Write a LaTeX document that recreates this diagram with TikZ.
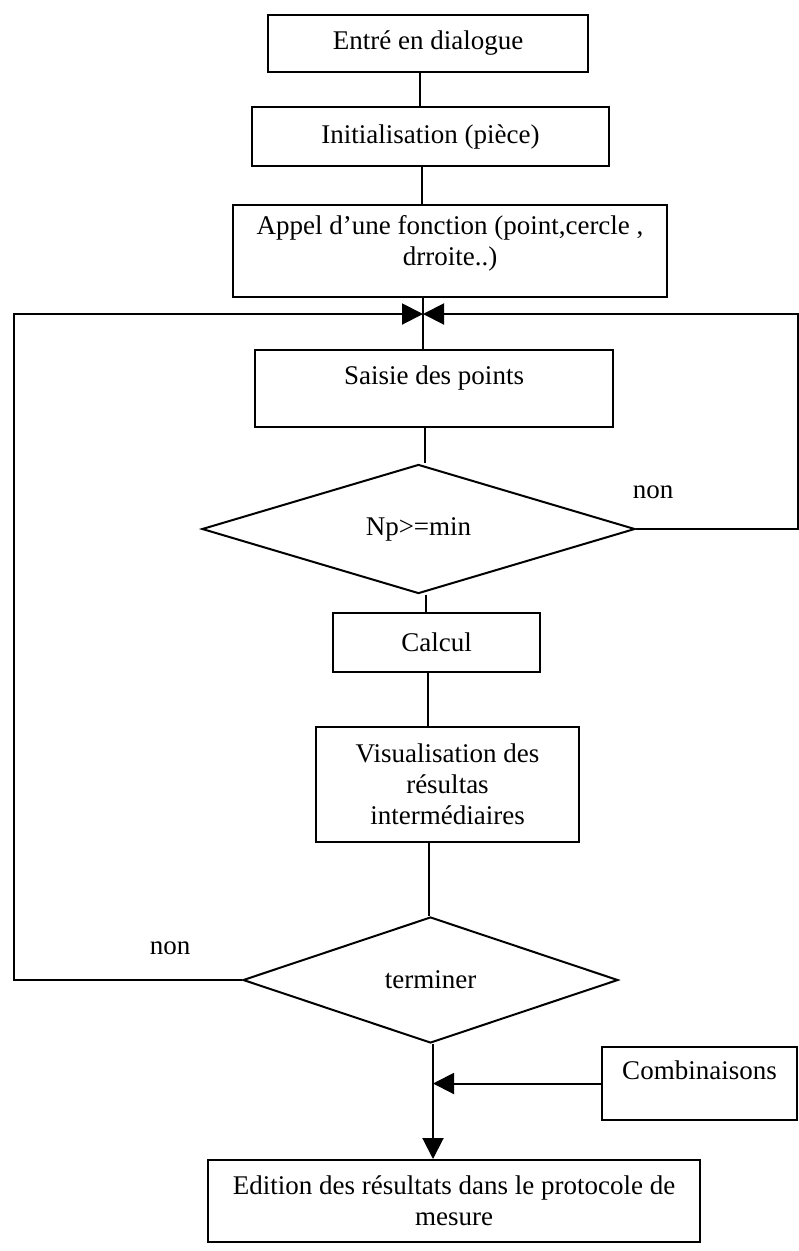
\documentclass[tikz,border=0pt]{standalone}
\usepackage{fontspec}
\setmainfont{Liberation Serif}
\usetikzlibrary{shapes.geometric,arrows.meta}
\begin{document}
\begin{tikzpicture}[x=1pt,y=-1pt,
  every node/.style={font=\fontsize{27}{31}\selectfont, inner sep=0pt},
  box/.style={draw, line width=2pt, rectangle, align=center},
  decision/.style={draw, line width=2pt, diamond},
  link/.style={line width=2pt},
  tip/.style={-{Triangle[length=21pt,width=21pt]}}
]
\useasboundingbox (0,0) rectangle (799,1251);

% process boxes and decisions
\node[box, minimum width=320pt, minimum height=57pt] (b1) at (428,43.5) {Entré en dialogue};
\node[box, minimum width=357pt, minimum height=59pt] (b2) at (430.5,136.5) {Initialisation (pièce)};
\node[box, minimum width=434pt, minimum height=92pt, text depth=22pt] (b3) at (450,251)
  {Appel d’une fonction (point,cercle ,\\ drroite..)};
\node[box, minimum width=358pt, minimum height=77pt, text depth=26pt] (sa) at (434,388.5) {Saisie des points};
\node[decision, minimum width=433pt, minimum height=127pt] (np) at (418.5,529) {Np>=min};
\node[box, minimum width=207pt, minimum height=59pt] (ca) at (436.5,642.5) {Calcul};
\node[box, minimum width=263pt, minimum height=115pt] (vi) at (447.5,784.5)
  {Visualisation des\\ résultas\\ intermédiaires};
\node[decision, minimum width=375pt, minimum height=126pt] (te) at (430.5,980) {terminer};
\node[box, minimum width=195pt, minimum height=73pt, text depth=26pt] (co) at (699.5,1083.5) {Combinaisons};
\node[box, minimum width=492pt, minimum height=82pt] (ed) at (454,1201)
  {Edition des résultats dans le protocole de\\ mesure};

% branch labels
\node (n1) at (653,492) {non};
\node (n2) at (170,948) {non};

% x positions of the main vertical flow
\coordinate (s1) at (420,0);
\coordinate (s2) at (422,0);
\coordinate (s4) at (425,0);
\coordinate (s5) at (426,0);
\coordinate (s6) at (428,0);
\coordinate (s7) at (429,0);
\coordinate (s9) at (433,0);
\coordinate (j) at (423,314);
\coordinate (lc) at (14,314);
\coordinate (rc) at (798,314);

% main flow
\draw[link] (b1.south -| s1) -- (b2.north -| s1);
\draw[link] (b2.south -| s2) -- (b3.north -| s2);
\draw[link] (b3.south -| j) -- (sa.north -| j);
\draw[link] (sa.south -| s4) -- (np.north -| s4);
\draw[link] (np.south -| s5) -- (ca.north -| s5);
\draw[link] (ca.south -| s6) -- (vi.north -| s6);
\draw[link] (vi.south -| s7) -- (te.north -| s7);
\draw[link,tip] (te.south -| s9) -- (ed.north -| s9);
\draw[link,tip] (co.west) -- (co.west -| s9);

% return loops
\draw[link,tip] (te.west) -- (te.west -| lc) -- (lc) -- (j);
\draw[link,tip] (np.east) -- (np.east -| rc) -- (rc) -- (j);
\end{tikzpicture}
\end{document}
